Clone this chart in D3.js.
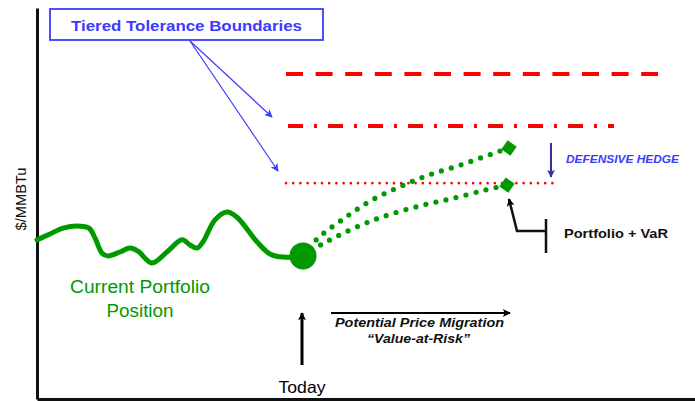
<!DOCTYPE html>
<html><head><meta charset="utf-8">
<script src="https://cdn.jsdelivr.net/npm/d3@7"></script>
<style>body{margin:0;background:#fff}svg{display:block}text{font-family:"Liberation Sans",Arial,sans-serif}</style>
</head><body><svg id="c" width="695" height="401"></svg>
<script>
// time (days, Today = 0) and price ($/MMBtu, arbitrary units)
const historyT = [-53,-50.4,-47.8,-44.4,-42.6,-41.4,-40,-38.8,-36.4,-34.4,-32.8,-30,-27,-24,-22.4,-21,-19.8,-17.4,-15,-13,-9,-6.4,-3.8,0.2];
const historyV = [4.07,4.22,4.37,4.42,4.37,4.12,3.73,3.66,3.76,3.86,3.78,3.48,3.76,4.07,3.94,3.86,4.02,4.58,4.78,4.65,4.02,3.71,3.63,3.66];
const upperT = [0.2,3,8.2,13.6,19.4,25.4,31.6,37.8,41.4];
const upperV = [3.66,4.09,4.60,5.06,5.42,5.73,5.98,6.26,6.42];
const lowerT = [0.2,4,11.8,17.8,24.2,30.4,36.8,41];
const lowerV = [3.66,3.96,4.45,4.73,4.96,5.14,5.35,5.47];
const tierNames = ["Tier 3","Tier 2","Tier 1"];
const tierLevels = [8.31,6.98,5.52];
const tierStart = [-3.2,-2.8,-3.2];
const tierEnd = [71.2,62.4,51];
const tierDash = ["17 12.6","15 11 3 11","0 7.2"];
const tierWidth = [4,4,2.6];

const svg = d3.select("#c");
const x = d3.scaleLinear().domain([-53,79.6]).range([37,700]);
const y = d3.scaleLinear().domain([0,10]).range([399,8]);
const green = "#009900", blue = "#3b3bff";

const defs = svg.append("defs");
function marker(id,color,w,h){
  defs.append("marker").attr("id",id).attr("viewBox","0 0 10 10").attr("refX",9).attr("refY",5)
   .attr("markerUnits","userSpaceOnUse").attr("markerWidth",w).attr("markerHeight",h).attr("orient","auto")
   .append("path").attr("d","M0,0L10,5L0,10L2.5,5Z").attr("fill",color);
}
marker("ab",blue,9,8); marker("ak", "#000",9,8); marker("ad","#333399",8,8);

function label(xp,yp,txt,size,len,opts={}){
  const t = svg.append("text").attr("x",xp).attr("y",yp).attr("font-size",size)
    .attr("text-anchor",opts.anchor||"start").attr("fill",opts.fill||"#111")
    .attr("textLength",len).attr("lengthAdjust","spacingAndGlyphs").text(txt);
  if(opts.bold) t.attr("font-weight","bold");
  if(opts.italic) t.attr("font-style","italic");
  if(opts.transform) t.attr("transform",opts.transform);
  return t;
}

// axes
const gx = svg.append("g").attr("transform",`translate(0,${y(0)})`).call(d3.axisBottom(x).ticks(0).tickSizeOuter(0));
const gy = svg.append("g").attr("transform",`translate(${x(-53)},0)`).call(d3.axisLeft(y).ticks(0).tickSizeOuter(0));
[gx,gy].forEach(g=>g.select(".domain").attr("stroke","#111").attr("stroke-width",3));
label(0,0,"$/MMBTu",14,63,{anchor:"middle",transform:"translate(26,199) rotate(-90)"});

// tolerance boundaries
tierLevels.forEach((v,i)=>{
  svg.append("line").attr("x1",x(tierStart[i])).attr("x2",x(tierEnd[i])).attr("y1",y(v)).attr("y2",y(v))
   .attr("stroke","#ff0000").attr("stroke-width",tierWidth[i]).attr("stroke-dasharray",tierDash[i])
   .attr("stroke-linecap",i===2?"round":"butt");
});

// history curve
const line = d3.line().x(d=>x(d[0])).y(d=>y(d[1])).curve(d3.curveCatmullRom.alpha(0.5));
svg.append("path").datum(historyT.map((t,i)=>[t,historyV[i]])).attr("d",line)
  .attr("fill","none").attr("stroke",green).attr("stroke-width",5).attr("stroke-linecap","round");

// projections
[[upperT,upperV],[lowerT,lowerV]].forEach(([T,V])=>{
  const pts = T.map((t,i)=>[t,V[i]]);
  svg.append("path").datum(pts).attr("d",line).attr("fill","none").attr("stroke",green)
    .attr("stroke-width",5.2).attr("stroke-linecap","round").attr("stroke-dasharray","0 10.3");
  const e = pts[pts.length-1];
  svg.append("rect").attr("x",-5.5).attr("y",-5.5).attr("width",11).attr("height",11).attr("fill",green)
    .attr("transform",`translate(${x(e[0])},${y(e[1])}) rotate(35)`);
});
svg.append("circle").attr("cx",x(0.2)).attr("cy",y(3.66)).attr("r",13.5).attr("fill",green);

// title box and arrows
svg.append("rect").attr("x",50).attr("y",9).attr("width",273).attr("height",31).attr("fill","#fff")
  .attr("stroke",blue).attr("stroke-width",1.8);
label(186.5,31,"Tiered Tolerance Boundaries",15,231,{anchor:"middle",bold:true,fill:blue});
[[272,117],[278,171]].forEach(p=>{
  svg.append("line").attr("x1",190).attr("y1",41).attr("x2",p[0]).attr("y2",p[1])
   .attr("stroke",blue).attr("stroke-width",1.2).attr("marker-end","url(#ab)");
});

// defensive hedge
svg.append("line").attr("x1",551).attr("x2",551).attr("y1",143).attr("y2",177)
  .attr("stroke","#333399").attr("stroke-width",2).attr("marker-end","url(#ad)");
label(566,163,"DEFENSIVE HEDGE",11.5,113,{bold:true,italic:true,fill:blue});

// portfolio + VaR
svg.append("path").attr("d","M546,219V253M546,231H517L509,199").attr("fill","none")
  .attr("stroke","#111").attr("stroke-width",2.5).attr("marker-end","url(#ak)");
label(564,238,"Portfolio + VaR",13.5,104,{bold:true});

// current position
label(140,293,"Current Portfolio",17.5,140,{anchor:"middle",fill:green});
label(140,317,"Position",17.5,67,{anchor:"middle",fill:green});

// today
svg.append("line").attr("x1",x(0)).attr("x2",x(0)).attr("y1",365).attr("y2",313)
  .attr("stroke","#000").attr("stroke-width",3).attr("marker-end","url(#ak)");
label(x(0),393,"Today",16.5,47,{anchor:"middle",fill:"#000"});

// potential price migration
svg.append("line").attr("x1",331).attr("x2",510).attr("y1",313).attr("y2",313)
  .attr("stroke","#000").attr("stroke-width",1.8).attr("marker-end","url(#ak)");
label(419.5,327,"Potential Price Migration",13,169,{anchor:"middle",bold:true,italic:true});
label(418.5,343,"\u201cValue-at-Risk\u201d",13,103,{anchor:"middle",bold:true,italic:true});
</script></body></html>
